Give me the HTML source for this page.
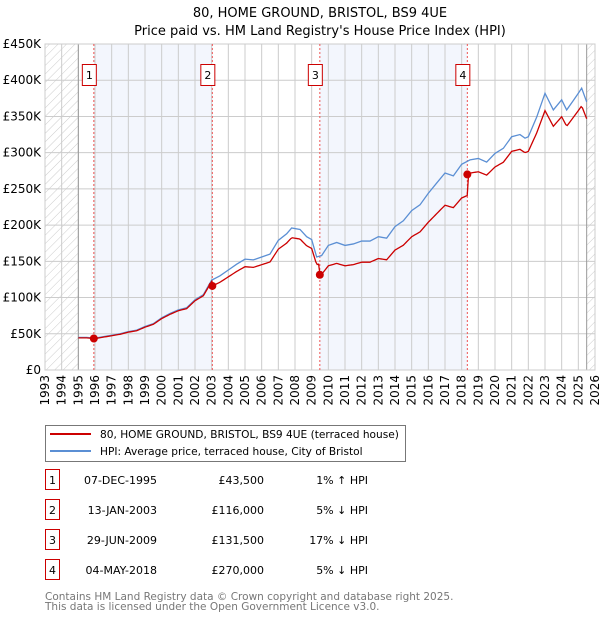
<!DOCTYPE html>
<html><head><meta charset="utf-8"><style>
body{margin:0;background:#fff;font-family:"DejaVu Sans","Liberation Sans",sans-serif;}
svg text{font-family:"DejaVu Sans","Liberation Sans",sans-serif;}
</style></head><body>
<svg id="c" width="600" height="620" xmlns="http://www.w3.org/2000/svg">
<defs><pattern id="hatch" patternUnits="userSpaceOnUse" width="6" height="6" patternTransform="rotate(45)"><line x1="0" y1="0" x2="0" y2="6" stroke="#ccc" stroke-width="1"/></pattern></defs>
<text x="320" y="17" text-anchor="middle" font-size="13">80, HOME GROUND, BRISTOL, BS9 4UE</text>
<text x="320" y="35" text-anchor="middle" font-size="13">Price paid vs. HM Land Registry's House Price Index (HPI)</text>
<g id="plot"></g>
<g>
<rect x="45.5" y="425.5" width="360" height="36" fill="#fff" stroke="#777"/>
<line x1="50" y1="434" x2="91" y2="434" stroke="#cc0000" stroke-width="2"/>
<text x="100" y="438" font-size="10.6">80, HOME GROUND, BRISTOL, BS9 4UE (terraced house)</text>
<line x1="50" y1="451" x2="91" y2="451" stroke="#5b8fd4" stroke-width="2"/>
<text x="100" y="455" font-size="10.6">HPI: Average price, terraced house, City of Bristol</text>
</g>
<g id="table" font-size="11"></g>
<text x="45" y="600" font-size="10.5" fill="#777">Contains HM Land Registry data © Crown copyright and database right 2025.</text>
<text x="45" y="610" font-size="10.5" fill="#777">This data is licensed under the Open Government Licence v3.0.</text>
</svg>
<script>
const hpiYears=[1995,1995.5,1996,1996.5,1997,1997.5,1998,1998.5,1999,1999.5,2000,2000.5,2001,2001.5,2002,2002.5,2003,2003.5,2004,2004.5,2005,2005.5,2006,2006.5,2007,2007.5,2007.8,2008.3,2008.7,2009.0,2009.3,2009.6,2010,2010.5,2011,2011.5,2012,2012.5,2013,2013.5,2014,2014.5,2015,2015.5,2016,2016.5,2017,2017.5,2018,2018.5,2019,2019.5,2020,2020.5,2021,2021.5,2021.8,2022,2022.5,2023,2023.5,2024,2024.3,2024.7,2025,2025.2,2025.5];
const hpiValues=[45,45,44,46,48,50,53,55,60,64,72,78,83,86,97,104,124,130,138,146,153,152,156,160,179,188,196,194,184,180,156,158,172,176,172,174,178,178,184,182,198,206,220,228,244,258,272,268,284,290,292,287,299,306,322,325,320,322,349,382,359,373,359,372,382,389,370];
const saleYears=[1995.93,2003.04,2009.49,2018.34];
const salePrices=[43.5,116,131.5,270];
const saleLabels=["1","2","3","4"];
const saleDates=["07-DEC-1995","13-JAN-2003","29-JUN-2009","04-MAY-2018"];
const salePriceText=["£43,500","£116,000","£131,500","£270,000"];
const saleHpiText=["1% ↑ HPI","5% ↓ HPI","17% ↓ HPI","5% ↓ HPI"];
const yTicks=[0,50,100,150,200,250,300,350,400,450];
const yTickLabels=["£0","£50K","£100K","£150K","£200K","£250K","£300K","£350K","£400K","£450K"];
const xTicks=[1993,1994,1995,1996,1997,1998,1999,2000,2001,2002,2003,2004,2005,2006,2007,2008,2009,2010,2011,2012,2013,2014,2015,2016,2017,2018,2019,2020,2021,2022,2023,2024,2025,2026];

const NS="http://www.w3.org/2000/svg";
const X0=45,X1=595,Y0=370,Y1=44;
const xs=y=>X0+(y-1993)/(2026-1993)*(X1-X0);
const ys=v=>Y0-v/450*(Y0-Y1);
const g=document.getElementById('plot');
function mk(t,a,p){const e=document.createElementNS(NS,t);for(const k in a)e.setAttribute(k,a[k]);(p||g).appendChild(e);return e;}
function hpiAt(t){if(t<=hpiYears[0])return hpiValues[0];for(let i=1;i<hpiYears.length;i++){if(t<=hpiYears[i]){const f=(t-hpiYears[i-1])/(hpiYears[i]-hpiYears[i-1]);return hpiValues[i-1]+f*(hpiValues[i]-hpiValues[i-1]);}}return hpiValues[hpiValues.length-1];}

for(let i=0;i<saleYears.length;i+=2){const r=mk('rect',{x:xs(saleYears[i]),y:Y1,width:xs(saleYears[i+1])-xs(saleYears[i]),height:Y0-Y1,fill:'#f3f6fd'});

}
const h1=mk('rect',{x:X0,y:Y1,width:xs(1995)-X0,height:Y0-Y1,fill:'url(#hatch)'});


const h2=mk('rect',{x:xs(2025.5),y:Y1,width:X1-xs(2025.5),height:Y0-Y1,fill:'url(#hatch)'});


yTicks.forEach((v,i)=>{mk('line',{x1:X0,x2:X1,y1:ys(v),y2:ys(v),stroke:'#ccc'});
const t=mk('text',{x:X0-4,y:ys(v)+4,'text-anchor':'end','font-size':12});t.textContent=yTickLabels[i];

});
xTicks.forEach(y=>{mk('line',{x1:xs(y),x2:xs(y),y1:Y1,y2:Y0,stroke:'#ccc'});
const t=mk('text',{x:0,y:0,'text-anchor':'end','font-size':12,transform:`translate(${xs(y)+4},${Y0+5}) rotate(-90)`});t.textContent=y;

});
mk('line',{x1:xs(1995),x2:xs(1995),y1:Y1,y2:Y0,stroke:'#999'});
mk('line',{x1:xs(2025.5),x2:xs(2025.5),y1:Y1,y2:Y0,stroke:'#999'});
mk('rect',{x:X0,y:Y1,width:X1-X0,height:Y0-Y1,fill:'none',stroke:'#ccc'});
saleYears.forEach(s=>mk('line',{x1:xs(s),x2:xs(s),y1:Y1,y2:Y0,stroke:'#e55','stroke-dasharray':'2,2','stroke-width':1}));
const hp=mk('polyline',{points:hpiYears.map((y,i)=>xs(y)+','+ys(hpiValues[i])).join(' '),fill:'none',stroke:'#5b8fd4','stroke-width':1.3});


const pts=[];
for(let t=1995;t<=2025.5+1e-6;t+=1/12){let k=0;for(let i=0;i<saleYears.length;i++)if(t>=saleYears[i])k=i;
pts.push(xs(t)+','+ys(salePrices[k]*hpiAt(t)/hpiAt(saleYears[k])));}
const pl=mk('polyline',{points:pts.join(' '),fill:'none',stroke:'#cc0000','stroke-width':1.3});


saleYears.forEach((s,i)=>{const c=mk('circle',{cx:xs(s),cy:ys(salePrices[i]),r:4,fill:'#cc0000'});


const b=mk('rect',{x:xs(s)-11.5,y:64.5,width:14,height:21,fill:'#fff',stroke:'#cc0000'});


const t=mk('text',{x:xs(s)-4.5,y:79,'text-anchor':'middle','font-size':11});t.textContent=saleLabels[i];});
const tb=document.getElementById('table');
saleYears.forEach((s,i)=>{const y=483+i*30;
const b=mk('rect',{x:45.5,y:y-13.5,width:14,height:20,fill:'#fff',stroke:'#cc0000'},tb);


let t=mk('text',{x:52.5,y:y+1,'text-anchor':'middle'},tb);t.textContent=saleLabels[i];
t=mk('text',{x:157,y:y+1,'text-anchor':'end'},tb);t.textContent=saleDates[i];


t=mk('text',{x:264,y:y+1,'text-anchor':'end'},tb);t.textContent=salePriceText[i];


t=mk('text',{x:368,y:y+1,'text-anchor':'end'},tb);t.textContent=saleHpiText[i];

});
</script>
</body></html>
